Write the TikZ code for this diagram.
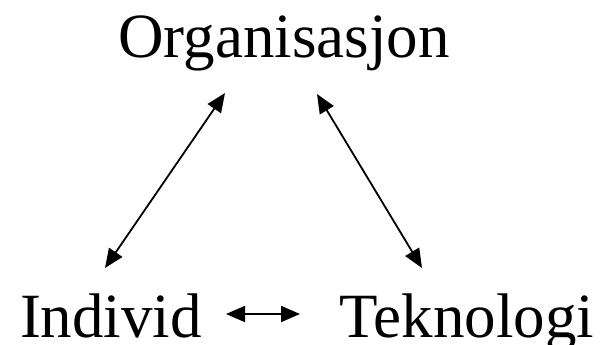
\documentclass[tikz,border=0pt]{standalone}
\usepackage{fontspec}
\setmainfont{Liberation Serif}
\usetikzlibrary{arrows.meta}

\tikzstyle{wordNode} = [inner sep=0pt, anchor=base, font=\fontsize{63}{70}\selectfont]
\tikzstyle{arrow} = [line width=1.8pt, {Triangle[length=19pt,width=16pt]}-{Triangle[length=19pt,width=16pt]}]

\begin{document}
\begin{tikzpicture}[x=1pt, y=-1pt]
    \useasboundingbox (0,0) rectangle (600,345);

    \node (org)[wordNode] at (284,58) {Organisasjon};
    \node (ind)[wordNode] at (111,337) {Individ};
    \node (tek)[wordNode] at (467,337) {Teknologi};

    \coordinate (orgL) at (225,93);
    \coordinate (orgR) at (317,94);
    \coordinate (indT) at (105,268);
    \coordinate (indR) at (226,314);
    \coordinate (tekT) at (422,268);
    \coordinate (tekL) at (300,314);

    \draw [arrow] (orgL) -- (indT);
    \draw [arrow] (orgR) -- (tekT);
    \draw [arrow] (indR) -- (tekL);
\end{tikzpicture}
\end{document}
